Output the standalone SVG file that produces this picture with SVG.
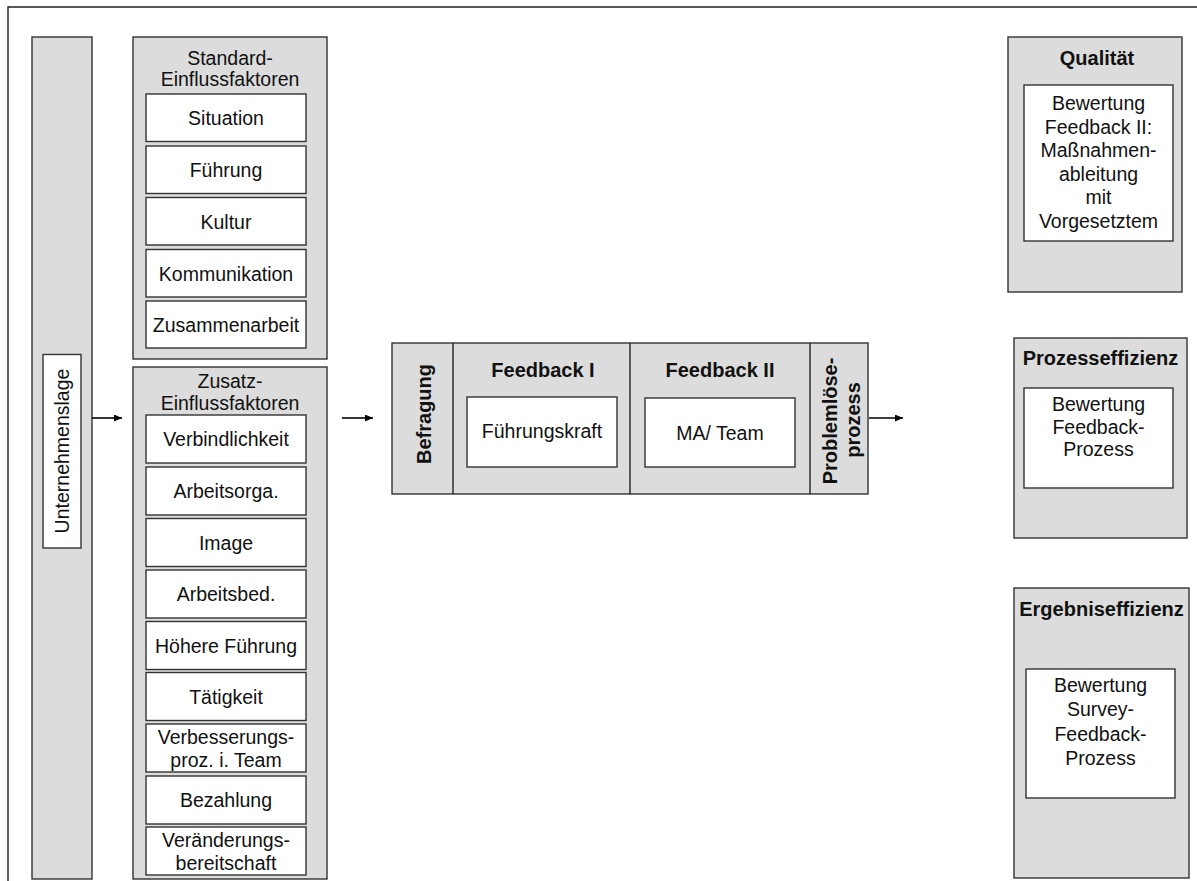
<svg xmlns="http://www.w3.org/2000/svg" width="1197" height="881" viewBox="0 0 1197 881">
  <defs>
    <style>
      text { font-family: "Liberation Sans", Arial, sans-serif; fill: #111; }
      .t { font-size: 19.5px; text-anchor: middle; }
      .b { font-size: 20px; font-weight: bold; text-anchor: middle; }
      .panel { fill: #dcdcdc; stroke: #333; stroke-width: 1.4; }
      .card { fill: #ffffff; stroke: #333; stroke-width: 1.4; }
      .frame { fill: none; stroke: #222; stroke-width: 1.4; }
      .link { fill: none; stroke: #000; stroke-width: 1.6; }
    </style>
    <marker id="arrow" markerUnits="userSpaceOnUse" markerWidth="9" markerHeight="8" refX="8" refY="3.5" orient="auto">
      <path d="M0,0 L8,3.5 L0,7 z" fill="#000"/>
    </marker>
  </defs>

  <rect width="1197" height="881" fill="#ffffff"/>
  <!-- page frame (open to the right and bottom) -->
  <polyline class="frame" points="8,881 8,7 1197,7"/>

  <!-- Unternehmenslage column -->
  <g id="unternehmenslage">
    <rect class="panel" x="32" y="37" width="60" height="842"/>
    <rect class="card" x="43" y="354.5" width="38" height="193.5"/>
    <text class="t" transform="translate(68.5,451) rotate(-90)">Unternehmenslage</text>
  </g>

  <!-- Standard influence factors -->
  <g id="standard-einflussfaktoren">
    <rect class="panel" x="133" y="37" width="194" height="322"/>
    <text class="t" x="230" y="65">Standard-</text>
    <text class="t" x="230" y="86">Einflussfaktoren</text>
    <g id="situation"><rect class="card" x="146" y="94" width="160" height="47.5"/><text class="t" x="226" y="125">Situation</text></g>
    <g id="fuehrung"><rect class="card" x="146" y="146" width="160" height="47.5"/><text class="t" x="226" y="177">Führung</text></g>
    <g id="kultur"><rect class="card" x="146" y="197.5" width="160" height="47.5"/><text class="t" x="226" y="228.5">Kultur</text></g>
    <g id="kommunikation"><rect class="card" x="146" y="249.5" width="160" height="47.5"/><text class="t" x="226" y="280.5">Kommunikation</text></g>
    <g id="zusammenarbeit"><rect class="card" x="146" y="301" width="160" height="47"/><text class="t" x="226" y="332">Zusammenarbeit</text></g>
  </g>

  <!-- Additional influence factors -->
  <g id="zusatz-einflussfaktoren">
    <rect class="panel" x="133" y="367" width="194" height="512"/>
    <text class="t" x="230" y="388">Zusatz-</text>
    <text class="t" x="230" y="409.5">Einflussfaktoren</text>
    <g id="verbindlichkeit"><rect class="card" x="146" y="415" width="160" height="48"/><text class="t" x="226" y="446">Verbindlichkeit</text></g>
    <g id="arbeitsorga"><rect class="card" x="146" y="467" width="160" height="48"/><text class="t" x="226" y="498">Arbeitsorga.</text></g>
    <g id="image"><rect class="card" x="146" y="518.5" width="160" height="48"/><text class="t" x="226" y="549.5">Image</text></g>
    <g id="arbeitsbed"><rect class="card" x="146" y="570" width="160" height="48"/><text class="t" x="226" y="601">Arbeitsbed.</text></g>
    <g id="hoehere-fuehrung"><rect class="card" x="146" y="621.5" width="160" height="48"/><text class="t" x="226" y="652.5">Höhere Führung</text></g>
    <g id="taetigkeit"><rect class="card" x="146" y="672.5" width="160" height="48"/><text class="t" x="226" y="703.5">Tätigkeit</text></g>
    <g id="verbesserungsprozess">
      <rect class="card" x="146" y="724" width="160" height="48"/>
      <text class="t" x="226" y="743.5">Verbesserungs-</text>
      <text class="t" x="226" y="767">proz. i. Team</text>
    </g>
    <g id="bezahlung"><rect class="card" x="146" y="776" width="160" height="48"/><text class="t" x="226" y="807">Bezahlung</text></g>
    <g id="veraenderungsbereitschaft">
      <rect class="card" x="146" y="827" width="160" height="48"/>
      <text class="t" x="226" y="846.5">Veränderungs-</text>
      <text class="t" x="226" y="870">bereitschaft</text>
    </g>
  </g>

  <!-- Survey feedback process -->
  <g id="prozess">
    <rect class="panel" x="392" y="343" width="476" height="151"/>
    <line class="frame" x1="453" y1="343" x2="453" y2="494"/>
    <line class="frame" x1="630" y1="343" x2="630" y2="494"/>
    <line class="frame" x1="810" y1="343" x2="810" y2="494"/>
    <g id="befragung">
      <text class="b" transform="translate(431,414) rotate(-90)">Befragung</text>
    </g>
    <g id="feedback-1">
      <text class="b" x="543" y="377">Feedback I</text>
      <rect class="card" x="467" y="397" width="150" height="70"/>
      <text class="t" x="542" y="438">Führungskraft</text>
    </g>
    <g id="feedback-2">
      <text class="b" x="720" y="377">Feedback II</text>
      <rect class="card" x="645" y="398" width="150" height="69"/>
      <text class="t" x="720" y="440">MA/ Team</text>
    </g>
    <g id="problemloeseprozess">
      <text class="b" transform="translate(837,421) rotate(-90)">Problemlöse-</text>
      <text class="b" transform="translate(860,420) rotate(-90)">prozess</text>
    </g>
  </g>

  <!-- Evaluation criteria -->
  <g id="qualitaet">
    <rect class="panel" x="1008" y="37" width="174" height="255"/>
    <text class="b" x="1097" y="65">Qualität</text>
    <rect class="card" x="1024" y="85" width="149" height="156"/>
    <text class="t" x="1098.5" y="110">Bewertung</text>
    <text class="t" x="1098.5" y="133.6">Feedback II:</text>
    <text class="t" x="1098.5" y="157.2">Maßnahmen-</text>
    <text class="t" x="1098.5" y="180.8">ableitung</text>
    <text class="t" x="1098.5" y="204.4">mit</text>
    <text class="t" x="1098.5" y="228">Vorgesetztem</text>
  </g>

  <g id="prozesseffizienz">
    <rect class="panel" x="1014" y="338" width="173" height="200"/>
    <text class="b" x="1100.5" y="365">Prozesseffizienz</text>
    <rect class="card" x="1024" y="388" width="149" height="100"/>
    <text class="t" x="1098.5" y="411">Bewertung</text>
    <text class="t" x="1098.5" y="433.5">Feedback-</text>
    <text class="t" x="1098.5" y="456">Prozess</text>
  </g>

  <g id="ergebniseffizienz">
    <rect class="panel" x="1014" y="588" width="175" height="290"/>
    <text class="b" x="1101.5" y="616">Ergebniseffizienz</text>
    <rect class="card" x="1026" y="669" width="149" height="129"/>
    <text class="t" x="1100.5" y="692">Bewertung</text>
    <text class="t" x="1100.5" y="716.3">Survey-</text>
    <text class="t" x="1100.5" y="740.6">Feedback-</text>
    <text class="t" x="1100.5" y="765">Prozess</text>
  </g>

  <!-- connectors -->
  <g id="connectors">
    <line class="link" x1="92" y1="418" x2="122" y2="418" marker-end="url(#arrow)"/>
    <line class="link" x1="342" y1="418" x2="373" y2="418" marker-end="url(#arrow)"/>
    <line class="link" x1="869" y1="418" x2="903" y2="418" marker-end="url(#arrow)"/>
  </g>
</svg>
